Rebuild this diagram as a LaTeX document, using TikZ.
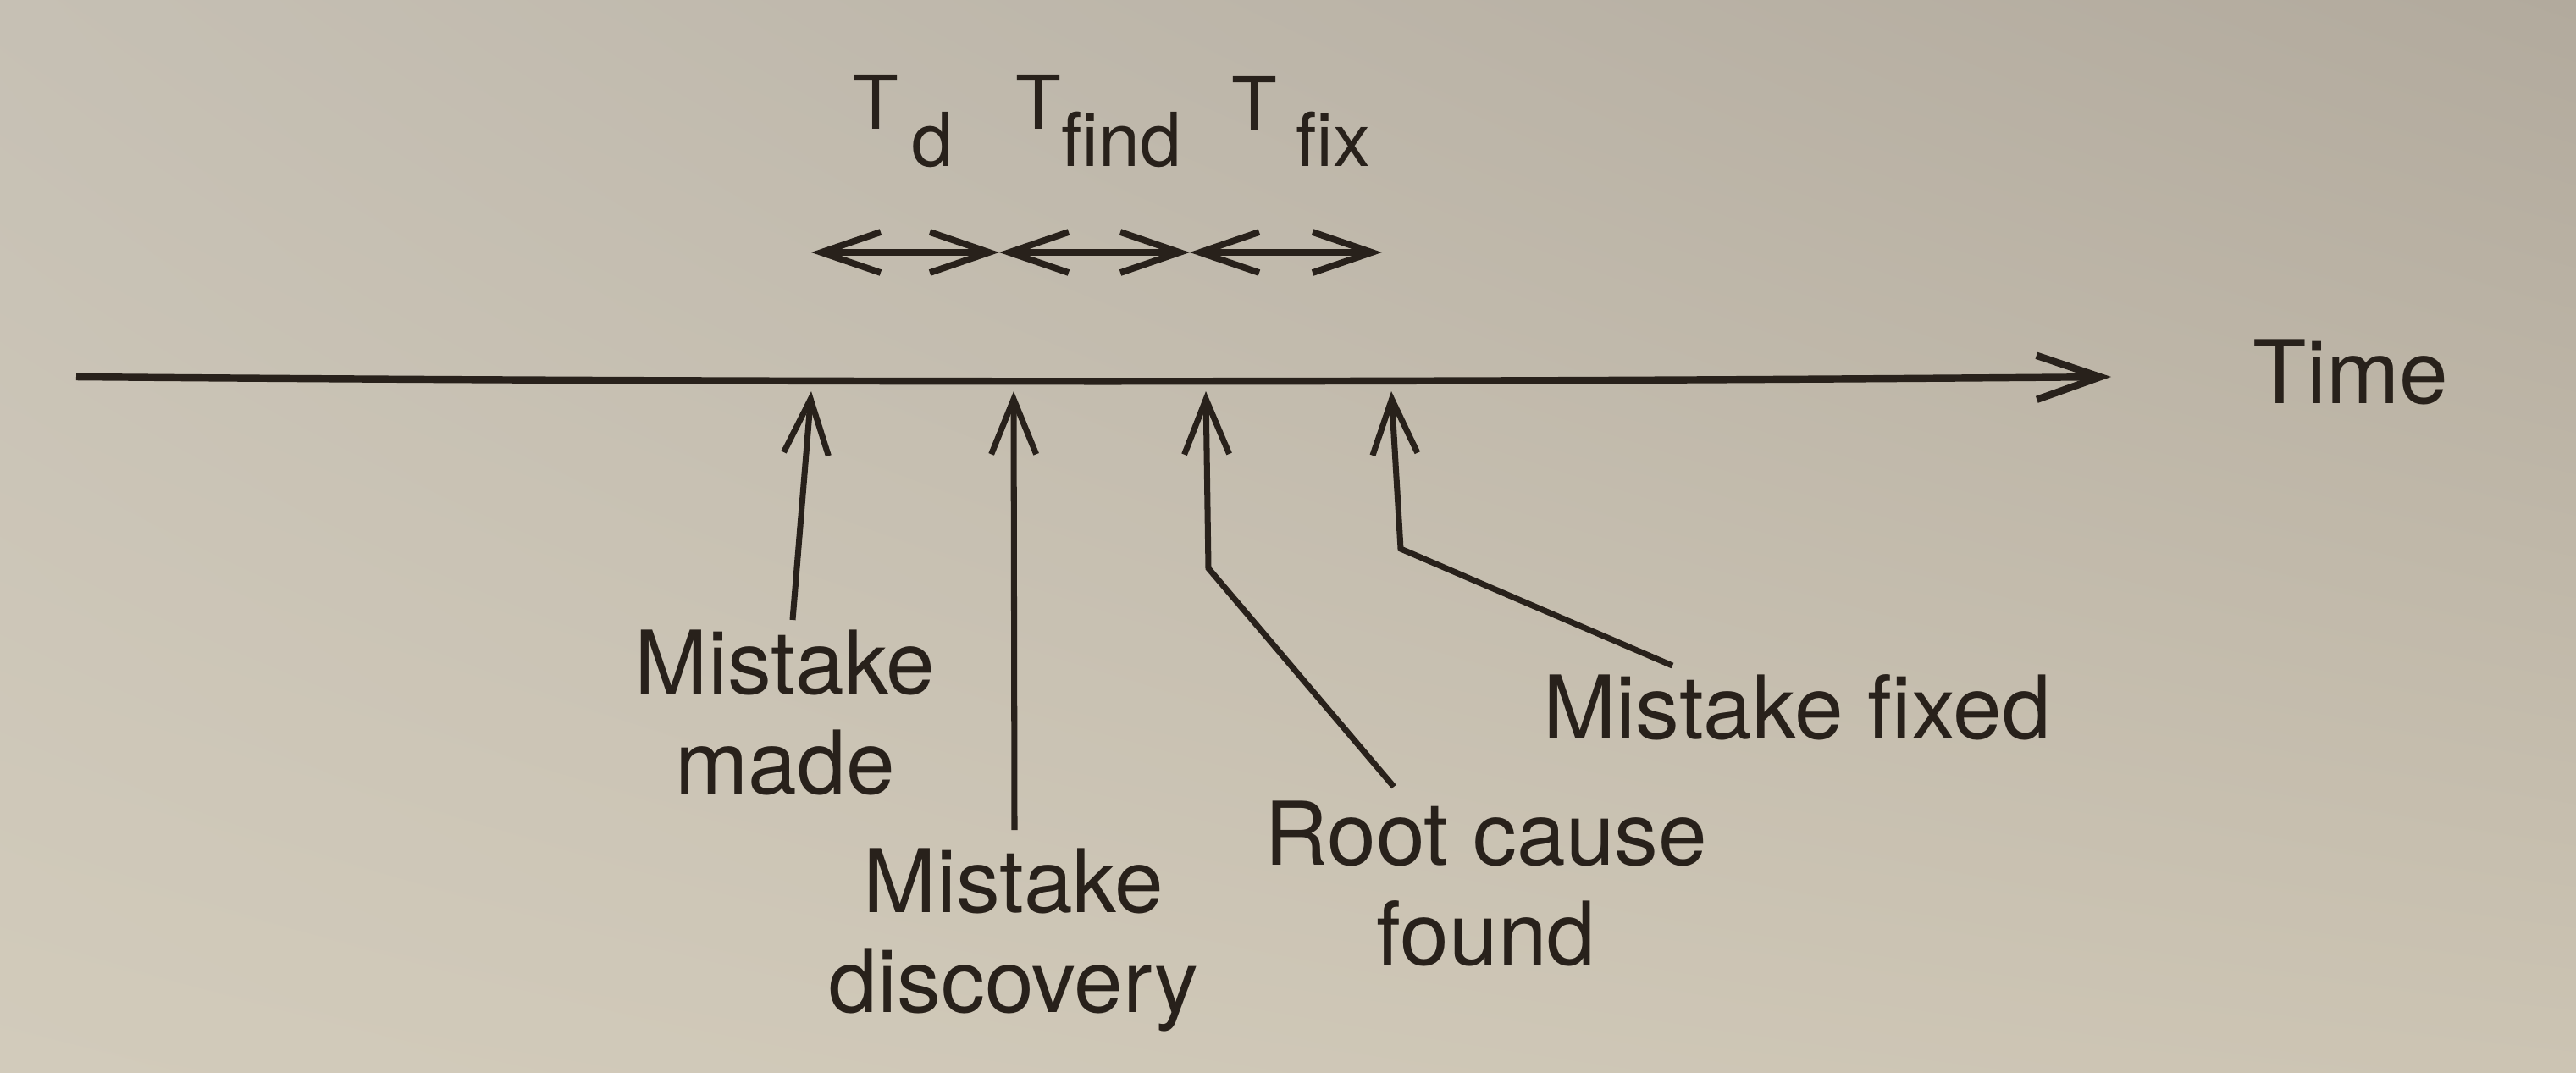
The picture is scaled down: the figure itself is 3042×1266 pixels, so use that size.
\documentclass[tikz,border=0pt]{standalone}
\usepackage{fontspec}
\setmainfont{TeX Gyre Heros}
\usetikzlibrary{arrows.meta,shadings}
\definecolor{paperUL}{RGB}{198,192,180}
\definecolor{paperUR}{RGB}{178,170,157}
\definecolor{paperLL}{RGB}{210,203,187}
\definecolor{paperLR}{RGB}{204,196,179}
\definecolor{ink}{RGB}{40,33,27}
\tikzset{
  lbl/.style={font=\fontsize{29.5}{33.5}\selectfont, text=ink, inner sep=0pt, align=center, anchor=base},
  tlbl/.style={font=\fontsize{25}{30}\selectfont, text=ink, inner sep=0pt, anchor=base west},
  axisline/.style={draw=ink, line width=2.4pt, -{Straight Barb[length=7.5mm,width=5.2mm]}},
  pointer/.style={draw=ink, line width=2pt, -{Straight Barb[length=6.5mm,width=5.3mm]}},
  spanarrow/.style={draw=ink, line width=2.2pt, {Straight Barb[length=7mm,width=4.8mm]}-{Straight Barb[length=7mm,width=4.8mm]}},
}
\begin{document}
\begin{tikzpicture}[x=0.01cm,y=-0.01cm]
\shade[upper left=paperUL, upper right=paperUR, lower left=paperLL, lower right=paperLR] (0,0) rectangle (3042,1266);
\useasboundingbox (0,0) rectangle (3042,1266);

% time axis
\coordinate (ax0) at (90,445);
\coordinate (ax1) at (2493,445);
\draw[axisline] (ax0) .. controls (900,452) and (1700,452) .. (ax1);
\node[lbl] (time) at (2776,476) {Time};

% interval labels
\node[tlbl] (td) at (1007,152) {T\hspace{0.15cm}\raisebox{-0.44cm}{d}};
\node[tlbl] (tfind) at (1199,152) {T\raisebox{-0.44cm}{find}};
\node[tlbl] (tfix) at (1454,154) {T\hspace{0.22cm}\raisebox{-0.42cm}{fix}};

% interval arrows
\coordinate (d0) at (958,298);
\coordinate (d1) at (1180,298);
\coordinate (d2) at (1405,298);
\coordinate (d3) at (1632,298);
\draw[spanarrow] (d0) -- (d1);
\draw[spanarrow] (d1) -- (d2);
\draw[spanarrow] (d2) -- (d3);

% event labels (anchored at the baseline of the last line)
\node[lbl] (made) at (927,937) {Mistake\\made};
\node[lbl] (disc) at (1197,1195) {Mistake\\discovery};
\node[lbl] (root) at (1755,1139) {Root cause\\found};
\node[lbl] (fixed) at (2122,872) {Mistake fixed};

% pointers
\coordinate (a1) at (958,462);
\coordinate (b1) at (936,732);
\coordinate (a2) at (1197,462);
\coordinate (b2) at (1198,980);
\coordinate (a3) at (1424,462);
\coordinate (k3) at (1427,671);
\coordinate (b3) at (1646,929);
\coordinate (a4) at (1643,462);
\coordinate (k4) at (1654,648);
\coordinate (b4) at (1975,786);
\draw[pointer] (b1) -- (a1);
\draw[pointer] (b2) -- (a2);
\draw[pointer] (b3) -- (k3) -- (a3);
\draw[pointer] (b4) -- (k4) -- (a4);
\end{tikzpicture}
\end{document}
